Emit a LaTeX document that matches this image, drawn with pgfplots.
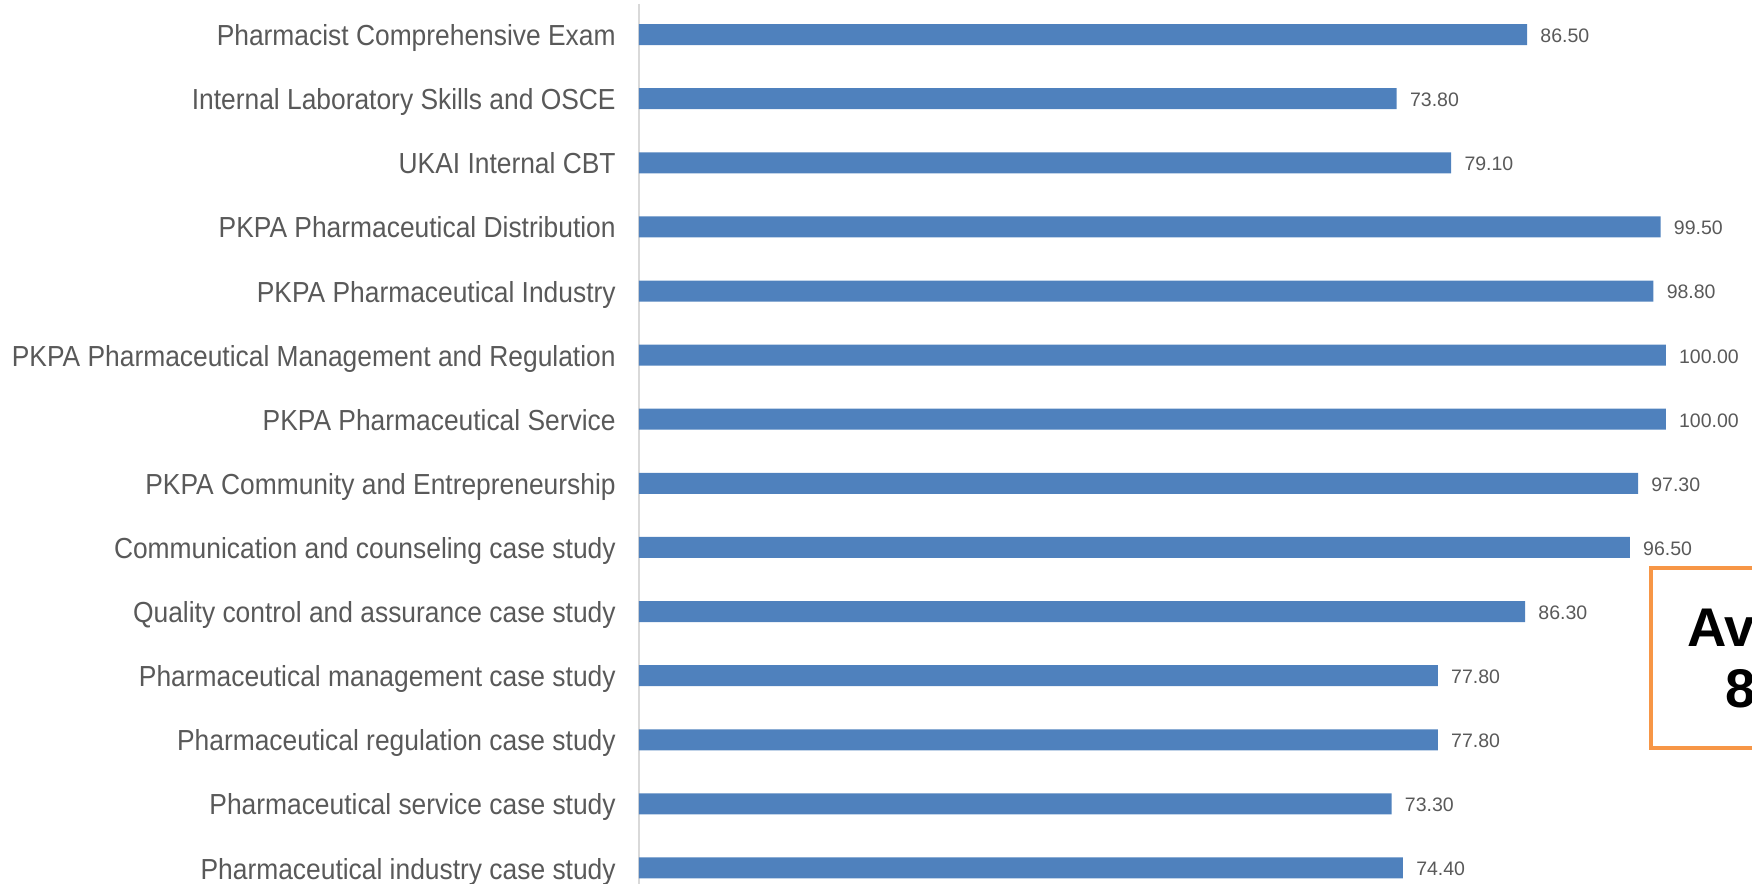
\documentclass[border=0pt]{standalone}
\usepackage{pgfplots}
\pgfplotsset{compat=1.18}
\usepackage{fontspec}
\setmainfont{Liberation Sans}
\newfontfamily\labelfont[FakeStretch=0.91]{Liberation Sans}
\definecolor{barblue}{RGB}{79,129,189}
\definecolor{boxorange}{RGB}{247,150,70}
\definecolor{txtgray}{RGB}{89,89,89}
\definecolor{axgray}{RGB}{217,217,217}
\begin{document}
\begin{tikzpicture}
\useasboundingbox (-12.78,0) rectangle (22.26,17.68);
\clip (-12.78,0) rectangle (22.26,17.68);
\begin{axis}[
  at={(0,0)}, anchor=south west,
  scale only axis,
  width=22.26cm, height=17.6cm,
  xbar, bar width=0.42cm,
  xmin=0, xmax=108.4,
  ymin=-0.477, ymax=13.25,
  y dir=reverse,
  hide x axis,
  axis y line*=left,
  y axis line style={draw=axgray, line width=0.6pt},
  ytick={0,...,13},
  major tick length=0pt,
  yticklabels={
    Pharmacist Comprehensive Exam,
    Internal Laboratory Skills and OSCE,
    UKAI Internal CBT,
    PKPA Pharmaceutical Distribution,
    PKPA Pharmaceutical Industry,
    PKPA Pharmaceutical Management and Regulation,
    PKPA Pharmaceutical Service,
    PKPA Community and Entrepreneurship,
    Communication and counseling case study,
    Quality control and assurance case study,
    Pharmaceutical management case study,
    Pharmaceutical regulation case study,
    Pharmaceutical service case study,
    Pharmaceutical industry case study},
  yticklabel style={font=\labelfont\fontsize{16.5}{19}\selectfont, text=txtgray, inner sep=0pt,
    anchor=base east, xshift=-0.46cm, yshift=-6.3pt},
  nodes near coords,
  nodes near coords style={font=\fontsize{11.1}{13}\selectfont, text=txtgray, inner sep=0pt,
    anchor=base west, xshift=0.26cm, yshift=-4.5pt,
    /pgf/number format/.cd, fixed, fixed zerofill, precision=2, assume math mode=true},
  clip=false,
]
\addplot[fill=barblue, draw=none] coordinates {
  (86.50,0) (73.80,1) (79.10,2) (99.50,3) (98.80,4) (100.00,5) (100.00,6)
  (97.30,7) (96.50,8) (86.30,9) (77.80,10) (77.80,11) (73.30,12) (74.40,13)
};
\end{axis}
\draw[boxorange, line width=0.08cm] (20.24,2.72) rectangle (25.98,6.32);
\node[anchor=base, inner sep=0pt, font=\fontsize{31}{36}\selectfont\bfseries] at (23.1,4.74) {Average};
\node[anchor=base, inner sep=0pt, font=\fontsize{31}{36}\selectfont\bfseries] at (23.1,3.52) {87.22};
\end{tikzpicture}
\end{document}
